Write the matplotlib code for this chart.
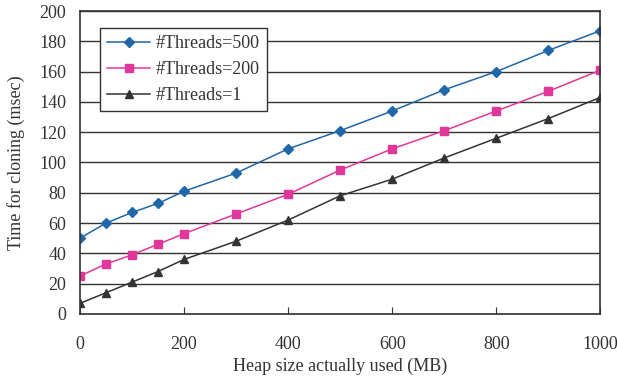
import matplotlib
matplotlib.use("Agg")
import matplotlib.pyplot as plt

plt.rcParams['font.family'] = ['Liberation Serif', 'DejaVu Serif']

heap = [0, 50, 100, 150, 200, 300, 400, 500, 600, 700, 800, 900, 1000]
t500 = [50, 60, 67, 73, 81, 93, 109, 121, 134, 148, 160, 174, 187]
t200 = [25, 33, 39, 46, 53, 66, 79, 95, 109, 121, 134, 147, 161]
t1 = [7, 14, 21, 28, 36, 48, 62, 78, 89, 103, 116, 129, 143]

fig = plt.figure(figsize=(6.18, 3.81), dpi=100)
ax = fig.add_axes([0.1294, 0.176, 0.842, 0.795])

ax.plot(heap, t500, color='#1f67a8', marker='D', markersize=5, lw=1.1, label='#Threads=500')
ax.plot(heap, t200, color='#e0379a', marker='s', markersize=6, lw=1.1, label='#Threads=200')
ax.plot(heap, t1, color='#333333', marker='^', markersize=6, lw=1.1, label='#Threads=1')

ax.set_xlim(0, 1000)
ax.set_ylim(0, 200)
ax.set_xticks(range(0, 1001, 200))
ax.set_yticks(range(0, 201, 20))
ax.yaxis.grid(True, color='#333333', lw=1)
ax.set_axisbelow(True)
for s in ax.spines.values():
    s.set_color('#333333')
    s.set_linewidth(1.2)
ax.tick_params(axis='x', direction='in', length=5, pad=16, labelsize=13, colors='#333333')
ax.tick_params(axis='y', direction='in', length=0, pad=10, labelsize=13, colors='#333333')

ax.set_xlabel('Heap size actually used (MB)', fontsize=13, color='#333333', labelpad=3)
ax.set_ylabel('Time for cloning (msec)', fontsize=13, color='#333333', labelpad=10)

leg = ax.legend(loc='upper left', bbox_to_anchor=(0.038, 0.945), fontsize=13,
                frameon=True, fancybox=False, edgecolor='#333333', framealpha=1,
                borderpad=0.4, labelspacing=0.5, handlelength=2.4, handletextpad=0.3,
                borderaxespad=0)
leg.get_frame().set_linewidth(1.0)
for t in leg.get_texts():
    t.set_color('#333333')

fig.savefig('out.png', dpi=100)
